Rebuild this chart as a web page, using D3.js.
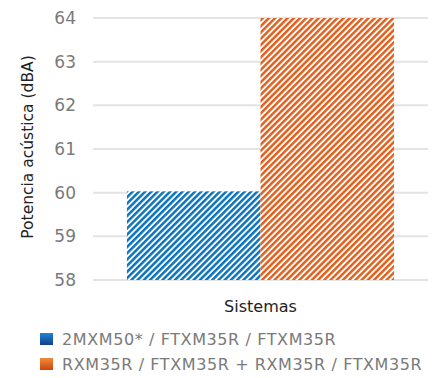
<!DOCTYPE html>
<html>
<head>
<meta charset="utf-8">
<script src="https://d3js.org/d3.v7.min.js"></script>
<style>
  body { margin: 0; background: #fff; }
  text { font-family: "DejaVu Sans", sans-serif; }
</style>
</head>
<body>
<div id="viz"></div>
<script>
// chart data
var categories = ["Sistemas"];
var seriesNames = ["2MXM50* / FTXM35R / FTXM35R", "RXM35R / FTXM35R + RXM35R / FTXM35R"];
var seriesValues = [60.03, 64.0];
var yTicks = [58, 59, 60, 61, 62, 63, 64];

var colors = ["#0b74bd", "#e0611f"];
var gradTop = ["#1b86d2", "#f08a3c"];
var gradBot = ["#12408f", "#c9470f"];

var margin = {top: 18, right: 18, bottom: 98, left: 93};
var W = 446, H = 378;
var width = W - margin.left - margin.right,
    height = H - margin.top - margin.bottom;

var svg = d3.select("#viz").append("svg")
    .attr("width", W)
    .attr("height", H);

var defs = svg.append("defs");

// hatch patterns + legend gradients
colors.forEach(function(c, i) {
    var p = defs.append("pattern")
        .attr("id", "hatch" + i)
        .attr("patternUnits", "userSpaceOnUse")
        .attr("width", 4.4)
        .attr("height", 4.4)
        .attr("patternTransform", "rotate(45)");
    p.append("rect").attr("width", 4.4).attr("height", 4.4).attr("fill", "#fff");
    p.append("rect").attr("width", 2.5).attr("height", 4.4).attr("fill", c);

    var g = defs.append("linearGradient")
        .attr("id", "grad" + i)
        .attr("x1", 0).attr("y1", 0).attr("x2", 0).attr("y2", 1);
    g.append("stop").attr("offset", "0%").attr("stop-color", gradTop[i]);
    g.append("stop").attr("offset", "100%").attr("stop-color", gradBot[i]);
});

var chart = svg.append("g")
    .attr("transform", "translate(" + margin.left + "," + margin.top + ")");

var yScale = d3.scaleLinear()
    .domain([58, 64])
    .range([height, 0]);

var xScale = d3.scaleBand()
    .domain(categories)
    .range([0, width])
    .paddingOuter(0.127);

var xInner = d3.scaleBand()
    .domain(seriesNames)
    .range([0, xScale.bandwidth()]);

// gridlines
chart.selectAll(".grid")
    .data(yTicks)
    .enter()
    .append("line")
    .attr("class", "grid")
    .attr("x1", 0)
    .attr("x2", width)
    .attr("y1", function(d) { return yScale(d); })
    .attr("y2", function(d) { return yScale(d); })
    .attr("stroke", "#e3e3e3")
    .attr("stroke-width", 2);

// y axis labels
var yAxis = d3.axisLeft(yScale)
    .tickValues(yTicks)
    .tickFormat(d3.format("d"))
    .tickSize(0)
    .tickPadding(17);
var gy = chart.append("g").call(yAxis);
gy.select(".domain").remove();
gy.selectAll("text")
    .attr("fill", "#7a7a7a")
    .style("font-family", "DejaVu Sans")
    .style("font-size", "17px");

// bars
var barData = seriesNames.map(function(name, i) {
    return {cat: categories[0], name: name, value: seriesValues[i], i: i};
});
chart.selectAll(".bar")
    .data(barData)
    .enter()
    .append("rect")
    .attr("class", "bar")
    .attr("x", function(d) { return xScale(d.cat) + xInner(d.name); })
    .attr("width", xInner.bandwidth())
    .attr("y", function(d) { return yScale(d.value); })
    .attr("height", function(d) { return height - yScale(d.value); })
    .attr("fill", function(d) { return "url(#hatch" + d.i + ")"; });

// x axis title
chart.append("text")
    .attr("x", width / 2)
    .attr("y", height + 32)
    .attr("text-anchor", "middle")
    .attr("fill", "#222")
    .style("font-size", "16px")
    .text(categories[0]);

// y axis title
svg.append("text")
    .attr("transform", "translate(33,147) rotate(-90)")
    .attr("text-anchor", "middle")
    .attr("fill", "#222")
    .style("font-size", "15.5px")
    .text("Potencia acústica (dBA)");

// legend
var legend = svg.selectAll(".legend")
    .data(seriesNames)
    .enter()
    .append("g")
    .attr("class", "legend")
    .attr("transform", function(d, i) { return "translate(40," + (333 + i * 25) + ")"; });
legend.append("rect")
    .attr("width", 13)
    .attr("height", 12)
    .attr("fill", function(d, i) { return "url(#grad" + i + ")"; });
legend.append("text")
    .attr("x", 22)
    .attr("y", 12)
    .attr("fill", "#7a7a7a")
    .style("font-size", "16px")
    .style("letter-spacing", "0.6px")
    .text(function(d) { return d; });
</script>
</body>
</html>
